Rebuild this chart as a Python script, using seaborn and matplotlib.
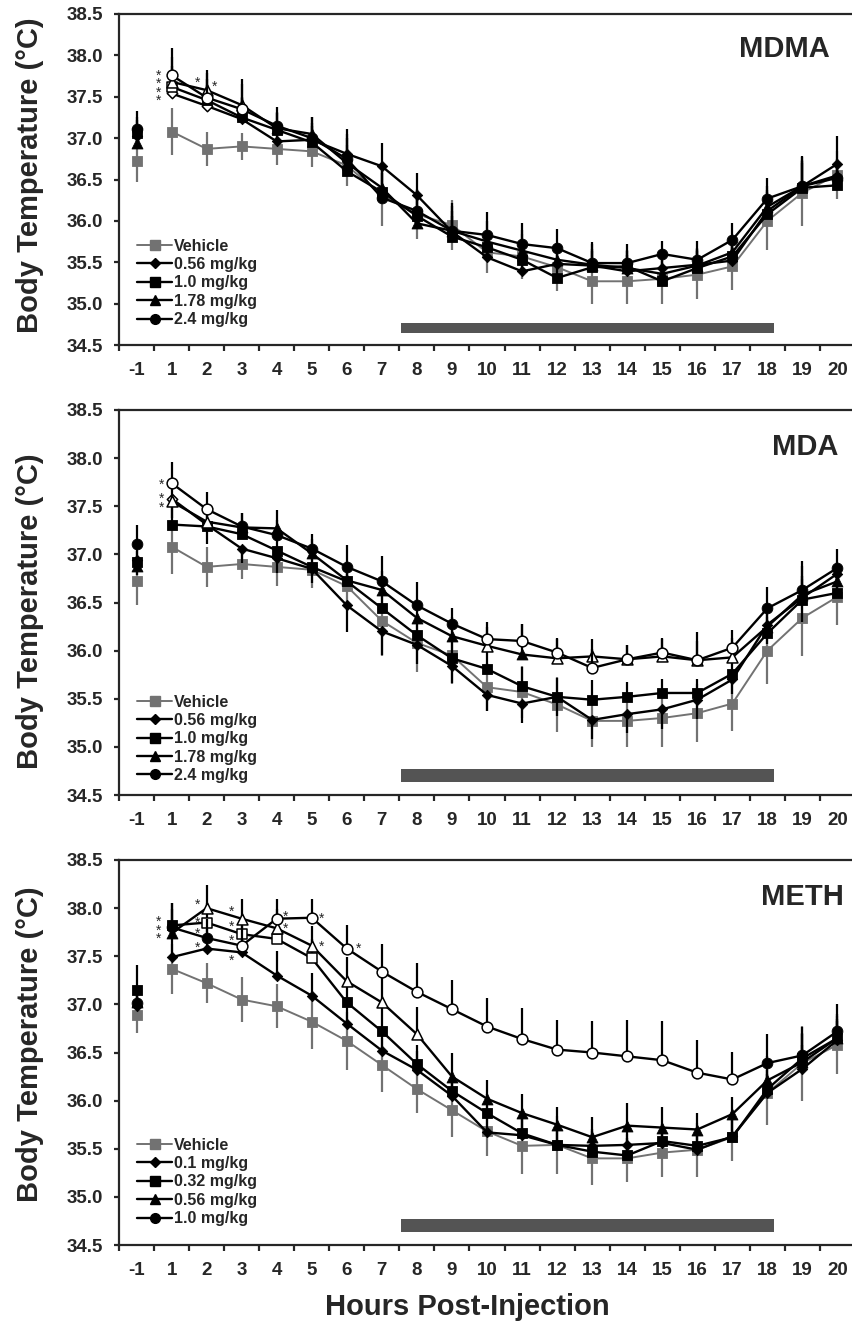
import matplotlib
matplotlib.use("Agg")
import numpy as np
import pandas as pd
import matplotlib.pyplot as plt
import seaborn as sns
from matplotlib.lines import Line2D

hours = ["-1"] + [str(h) for h in range(1, 21)]

# ---- MDMA / MDA (shared vehicle group) ----
vehicle = [36.72, 37.08, 36.87, 36.90, 36.87, 36.84, 36.67, 36.31, 36.08, 35.95, 35.62,
           35.57, 35.44, 35.27, 35.27, 35.30, 35.35, 35.45, 36.00, 36.34, 36.56]
vehicle_sem = [0.25, 0.28, 0.21, 0.16, 0.20, 0.19, 0.25, 0.37, 0.30, 0.30, 0.25,
               0.27, 0.29, 0.27, 0.27, 0.30, 0.30, 0.28, 0.35, 0.40, 0.29]

mdma_056 = [37.02, 37.54, 37.39, 37.23, 36.96, 36.98, 36.81, 36.66, 36.31, 35.87, 35.56,
            35.39, 35.48, 35.46, 35.39, 35.43, 35.47, 35.52, 36.12, 36.42, 36.69]
mdma_10 = [37.06, 37.62, 37.46, 37.25, 37.10, 36.95, 36.60, 36.35, 36.06, 35.81, 35.68,
           35.53, 35.31, 35.44, 35.45, 35.27, 35.43, 35.57, 36.08, 36.40, 36.43]
mdma_178 = [36.94, 37.68, 37.58, 37.40, 37.12, 37.05, 36.70, 36.40, 35.97, 35.88, 35.75,
            35.64, 35.53, 35.47, 35.43, 35.36, 35.46, 35.62, 36.17, 36.42, 36.55]
mdma_24 = [37.11, 37.76, 37.49, 37.35, 37.15, 37.00, 36.75, 36.28, 36.12, 35.88, 35.83,
           35.72, 35.67, 35.49, 35.49, 35.60, 35.53, 35.77, 36.27, 36.42, 36.52]
mdma_056_sem = [0.20, 0.25, 0.25, 0.25, 0.20, 0.20, 0.30, 0.28, 0.27, 0.25, 0.20,
                0.20, 0.20, 0.20, 0.20, 0.20, 0.20, 0.20, 0.25, 0.30, 0.33]
mdma_10_sem = [0.20, 0.25, 0.25, 0.25, 0.20, 0.20, 0.25, 0.25, 0.20, 0.25, 0.20,
               0.20, 0.20, 0.20, 0.20, 0.20, 0.20, 0.20, 0.20, 0.30, 0.20]
mdma_178_sem = [0.20, 0.30, 0.24, 0.32, 0.20, 0.20, 0.30, 0.30, 0.30, 0.30, 0.25,
                0.25, 0.20, 0.25, 0.20, 0.20, 0.20, 0.20, 0.25, 0.35, 0.20]
mdma_24_sem = [0.22, 0.33, 0.30, 0.30, 0.23, 0.25, 0.30, 0.30, 0.25, 0.34, 0.28,
               0.26, 0.23, 0.26, 0.23, 0.16, 0.23, 0.21, 0.25, 0.37, 0.20]

mda_056 = [36.94, 37.58, 37.31, 37.06, 36.96, 36.85, 36.47, 36.20, 36.06, 35.84, 35.54,
           35.45, 35.52, 35.28, 35.34, 35.39, 35.49, 35.70, 36.27, 36.55, 36.80]
mda_10 = [36.92, 37.31, 37.29, 37.21, 37.04, 36.87, 36.72, 36.44, 36.16, 35.92, 35.81,
          35.63, 35.52, 35.49, 35.52, 35.56, 35.56, 35.76, 36.18, 36.53, 36.60]
mda_178 = [36.88, 37.55, 37.34, 37.28, 37.27, 37.01, 36.73, 36.63, 36.34, 36.15, 36.05,
           35.96, 35.92, 35.94, 35.91, 35.94, 35.90, 35.93, 36.25, 36.58, 36.72]
mda_24 = [37.11, 37.74, 37.47, 37.29, 37.20, 37.06, 36.87, 36.72, 36.47, 36.28, 36.12,
          36.10, 35.98, 35.82, 35.91, 35.98, 35.90, 36.03, 36.44, 36.63, 36.86]
mda_056_sem = [0.15, 0.20, 0.20, 0.15, 0.15, 0.15, 0.28, 0.25, 0.20, 0.18, 0.17,
               0.20, 0.20, 0.20, 0.20, 0.20, 0.20, 0.15, 0.20, 0.25, 0.20]
mda_10_sem = [0.15, 0.20, 0.20, 0.15, 0.15, 0.15, 0.20, 0.20, 0.20, 0.20, 0.20,
              0.20, 0.20, 0.20, 0.15, 0.15, 0.15, 0.15, 0.20, 0.25, 0.20]
mda_178_sem = [0.15, 0.20, 0.18, 0.15, 0.19, 0.15, 0.20, 0.20, 0.20, 0.20, 0.20,
               0.32, 0.20, 0.18, 0.15, 0.18, 0.20, 0.20, 0.20, 0.30, 0.20]
mda_24_sem = [0.20, 0.22, 0.18, 0.14, 0.16, 0.15, 0.23, 0.26, 0.24, 0.16, 0.18,
              0.18, 0.15, 0.20, 0.15, 0.15, 0.29, 0.18, 0.22, 0.30, 0.20]

# ---- METH ----
meth_vehicle = [36.89, 37.37, 37.22, 37.05, 36.98, 36.82, 36.62, 36.37, 36.12, 35.90, 35.68,
                35.53, 35.54, 35.40, 35.40, 35.46, 35.49, 35.62, 36.08, 36.39, 36.58]
meth_vehicle_sem = [0.19, 0.26, 0.21, 0.23, 0.23, 0.28, 0.30, 0.28, 0.25, 0.28, 0.26,
                    0.29, 0.30, 0.28, 0.25, 0.25, 0.28, 0.25, 0.33, 0.39, 0.30]
meth_01 = [36.98, 37.49, 37.58, 37.54, 37.30, 37.09, 36.80, 36.52, 36.32, 36.05, 35.67,
           35.64, 35.54, 35.53, 35.54, 35.56, 35.49, 35.63, 36.08, 36.33, 36.63]
meth_032 = [37.15, 37.82, 37.85, 37.73, 37.68, 37.48, 37.02, 36.72, 36.38, 36.10, 35.87,
            35.66, 35.54, 35.47, 35.43, 35.58, 35.53, 35.62, 36.12, 36.44, 36.65]
meth_056 = [37.02, 37.74, 38.00, 37.89, 37.79, 37.61, 37.24, 37.02, 36.69, 36.25, 36.02,
            35.87, 35.75, 35.62, 35.74, 35.72, 35.70, 35.86, 36.21, 36.40, 36.65]
meth_10 = [37.01, 37.80, 37.69, 37.61, 37.89, 37.90, 37.58, 37.34, 37.13, 36.95, 36.77,
           36.64, 36.53, 36.50, 36.46, 36.42, 36.29, 36.22, 36.39, 36.47, 36.72]
meth_01_sem = [0.15, 0.20, 0.20, 0.20, 0.25, 0.24, 0.25, 0.25, 0.20, 0.20, 0.20,
               0.20, 0.18, 0.18, 0.18, 0.18, 0.18, 0.18, 0.20, 0.25, 0.20]
meth_032_sem = [0.26, 0.23, 0.20, 0.20, 0.20, 0.20, 0.25, 0.25, 0.20, 0.20, 0.20,
                0.20, 0.18, 0.18, 0.18, 0.18, 0.18, 0.18, 0.20, 0.25, 0.20]
meth_056_sem = [0.15, 0.25, 0.24, 0.20, 0.20, 0.20, 0.25, 0.30, 0.28, 0.24, 0.19,
                0.20, 0.18, 0.21, 0.24, 0.21, 0.17, 0.18, 0.25, 0.30, 0.25]
meth_10_sem = [0.15, 0.25, 0.20, 0.20, 0.20, 0.20, 0.24, 0.29, 0.30, 0.30, 0.30,
               0.32, 0.31, 0.33, 0.38, 0.41, 0.34, 0.29, 0.30, 0.30, 0.28]

mdma_doses = ["0.56 mg/kg", "1.0 mg/kg", "1.78 mg/kg", "2.4 mg/kg"]
mda_doses = ["0.56 mg/kg", "1.0 mg/kg", "1.78 mg/kg", "2.4 mg/kg"]
meth_doses = ["0.1 mg/kg", "0.32 mg/kg", "0.56 mg/kg", "1.0 mg/kg"]

# hours at which a dose differs from vehicle (open symbols)
mdma_open = [[1, 2], [1], [1, 2, 3], [1, 2, 3]]
mda_open = [[1], [], [1, 2, 10, 12, 13, 14, 15, 16, 17], [1, 2, 10, 11, 12, 13, 14, 15, 16, 17]]
meth_open = [[], [2, 3, 4, 5], [2, 3, 4, 5, 6, 7, 8], list(range(3, 18))]

# asterisks: (dose index, hour, count, dx px, dy px, line spacing) placed near that point
mdma_stars = [(3, 1, 4, -13, -10, 0.5), (2, 2, 1, -9, 10, 1), (3, 2, 1, 8, 14, 1)]
mda_stars = [(3, 1, 1, -10, 1, 1), (2, 1, 2, -10, 1, 0.5)]
meth_stars = [(1, 1, 3, -13, -2, 0.5),
              (2, 2, 1, -9, 6, 1), (1, 2, 1, -9, 3, 1), (3, 2, 1, -9, 7, 1), (0, 2, 1, -9, 4, 1),
              (2, 3, 1, -10, 10, 1), (1, 3, 1, -10, 10, 1), (3, 3, 1, -10, 8, 1),
              (0, 3, 1, -10, -5, 1),
              (3, 4, 2, 9, -1, 0.75), (3, 5, 1, 10, 2, 1), (2, 5, 1, 10, 2, 1),
              (3, 6, 1, 12, 3, 1)]

dark_start, dark_end = 7.55, 18.2
dark_low, dark_high = 34.64, 34.77

GRAY = "#727272"
BAR = "#545454"
markers = ["D", "s", "^", "o"]
sizes = [28, 52, 62, 60]
leg_ms = [5, 6.5, 7, 7]

sns.set_style("ticks")
plt.rcParams["font.family"] = ["Liberation Sans", "DejaVu Sans"]
plt.rcParams["font.weight"] = "bold"

fig = plt.figure(figsize=(8.52, 13.23), dpi=100)
W, H = 852, 1323
axes_px = [(14, 345), (410, 795), (860, 1245)]
left_px, width_px = 119, 736
axs = [fig.add_axes([left_px / W, 1 - b / H, width_px / W, (b - t) / H]) for t, b in axes_px]

panels = [
    dict(name="MDMA", veh=vehicle, veh_sem=vehicle_sem,
         doses=mdma_doses, vals=[mdma_056, mdma_10, mdma_178, mdma_24],
         sems=[mdma_056_sem, mdma_10_sem, mdma_178_sem, mdma_24_sem],
         err=["up", "up", "up", "up"], opened=mdma_open, stars=mdma_stars,
         title_xy=(0.966, 0.871), leg_y=0.054),
    dict(name="MDA", veh=vehicle, veh_sem=vehicle_sem,
         doses=mda_doses, vals=[mda_056, mda_10, mda_178, mda_24],
         sems=[mda_056_sem, mda_10_sem, mda_178_sem, mda_24_sem],
         err=["down", "up", "up", "up"], opened=mda_open, stars=mda_stars,
         title_xy=(0.977, 0.883), leg_y=0.031),
    dict(name="METH", veh=meth_vehicle, veh_sem=meth_vehicle_sem,
         doses=meth_doses, vals=[meth_01, meth_032, meth_056, meth_10],
         sems=[meth_01_sem, meth_032_sem, meth_056_sem, meth_10_sem],
         err=["up", "up", "up", "up"], opened=meth_open, stars=meth_stars,
         title_xy=(0.985, 0.883), leg_y=0.049),
]

pos = np.arange(len(hours))


def draw_series(ax, vals, sem, color, marker, size, err, opened, z, lw):
    vals = np.array(vals)
    sem = np.array(sem)
    zero = np.zeros_like(sem)
    if err == "both":
        yerr = [sem, sem]
    elif err == "down":
        yerr = [sem, zero]
    else:
        yerr = [zero, sem]
    ax.errorbar(pos, vals, yerr=yerr, fmt="none", ecolor=color, elinewidth=1.6,
                capsize=0, zorder=z)
    df = pd.DataFrame({"pos": pos, "temp": vals, "hour": hours})
    # baseline (-1) is not joined to the post-injection curve
    sns.lineplot(data=df.iloc[1:], x="pos", y="temp", color=color, lw=lw,
                 errorbar=None, ax=ax, zorder=z + 0.1)
    is_open = df["hour"].isin([str(h) for h in opened])
    sns.scatterplot(data=df[~is_open], x="pos", y="temp", marker=marker, s=size,
                    color=color, edgecolor=color, linewidth=0.6, ax=ax, zorder=z + 0.2)
    if is_open.any():
        sns.scatterplot(data=df[is_open], x="pos", y="temp", marker=marker, s=size,
                        color="white", edgecolor="black", linewidth=1.1, ax=ax,
                        zorder=z + 0.2)


for ax, p in zip(axs, panels):
    draw_series(ax, p["veh"], p["veh_sem"], GRAY, "s", 52, "both", [], 2, 1.4)
    for k in range(4):
        draw_series(ax, p["vals"][k], p["sems"][k], "black", markers[k], sizes[k],
                    p["err"][k], p["opened"][k], 3 + k, 1.7)

    for k, hr, n, dx, dy, ls in p["stars"]:
        i = hours.index(str(hr))
        ax.annotate("\n".join(["*"] * n), xy=(pos[i], p["vals"][k][i]),
                    xytext=(dx / 1.389, (dy - 3) / 1.389), textcoords="offset points",
                    ha="center", va="center", fontsize=10, fontweight="normal",
                    linespacing=ls, zorder=10)

    ax.fill_between([dark_start, dark_end], dark_low, dark_high, color=BAR, lw=0, zorder=1)

    ax.set_xlim(-0.5, 20.5)
    ax.set_ylim(34.5, 38.5)
    ax.set_xticks(np.arange(-0.5, 20.6, 1))
    ax.set_xticklabels([])
    ax.set_xticks(pos, minor=True)
    ax.set_xticklabels(hours, minor=True)
    ax.set_yticks(np.arange(34.5, 38.51, 0.5))
    ax.set_yticklabels([f"{v:.1f}" for v in np.arange(34.5, 38.51, 0.5)])
    ax.tick_params(axis="x", which="major", direction="out", length=4, width=1.6)
    ax.tick_params(axis="x", which="minor", length=0, pad=12, labelsize=13.5)
    ax.tick_params(axis="y", direction="out", length=3.5, width=1.6, pad=8, labelsize=13.5)
    ax.set_xlabel("")
    ax.set_ylabel("")
    sns.despine(ax=ax, top=False, right=True)
    for s in ["left", "bottom", "top"]:
        ax.spines[s].set_linewidth(1.6)

    ax.text(p["title_xy"][0], p["title_xy"][1], p["name"], transform=ax.transAxes,
            ha="right", va="baseline", fontsize=21, fontweight="bold")

    handles = [Line2D([0], [0], color=GRAY, lw=1.4, marker="s", markersize=6.5,
                      markerfacecolor=GRAY, markeredgecolor=GRAY)]
    for k in range(4):
        handles.append(Line2D([0], [0], color="black", lw=1.7, marker=markers[k],
                              markersize=leg_ms[k], markerfacecolor="black",
                              markeredgecolor="black"))
    ax.legend(handles, ["Vehicle"] + p["doses"], loc="lower left",
              bbox_to_anchor=(0.0245, p["leg_y"]), frameon=False,
              prop={"size": 11.5, "weight": "bold"}, handlelength=2.2,
              handletextpad=0.1, labelspacing=0.21, borderaxespad=0, borderpad=0)

for yc in [175, 611, 1044]:
    fig.text(30 / W, 1 - yc / H, "Body Temperature (°C)", rotation=90,
             ha="center", va="center", fontsize=21, fontweight="bold")

fig.text(467 / W, 1 - 1315 / H, "Hours Post-Injection", ha="center", va="baseline",
         fontsize=21, fontweight="bold")

fig.savefig("out.png", dpi=100)
